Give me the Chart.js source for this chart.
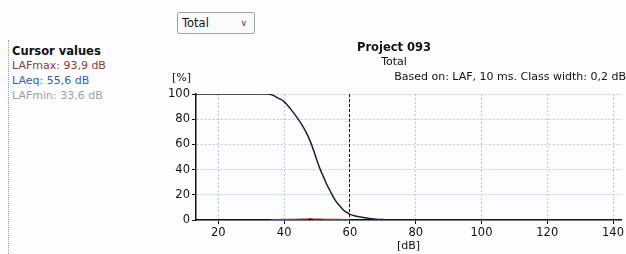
<!DOCTYPE html>
<html>
<head>
<meta charset="utf-8">
<script src="https://cdn.jsdelivr.net/npm/chart.js@4/dist/chart.umd.min.js"></script>
<style>
  body { margin: 0; width: 626px; height: 254px; background: #fdfdfd; font-family: "DejaVu Sans", Verdana, sans-serif; overflow: hidden; position: relative; }
  #painel { position: absolute; left: 8px; top: 40px; height: 214px; border-left: 1px dotted #8a9ab8; padding-left: 3px; }
  #painel h4 { margin: 4px 0 0 0; font-size: 11.5px; line-height: 14px; font-weight: bold; color: #111; }
  #painel div { font-size: 11px; line-height: 15px; }
  #dropdown { position: absolute; left: 177px; top: 12px; width: 78px; height: 22px; border: 1px solid #9aa3b0; border-radius: 2px; background: #fafafa; font-size: 11.5px; line-height: 21px; box-sizing: border-box; padding-left: 4px; color: #111; }
  #dropdown span { position: absolute; right: 7px; top: 0; font-size: 9px; color: #444; }
  #grafico-wrap { position: absolute; left: 150px; top: 40px; width: 476px; height: 214px; }
</style>
</head>
<body>
<div id="dropdown">Total<span>&#8744;</span></div>
<div id="painel">
  <h4>Cursor values</h4>
  <div style="color:#8b3a3a">LAFmax: 93,9 dB</div>
  <div style="color:#3a5fa0">LAeq: 55,6 dB</div>
  <div style="color:#9aa0a8">LAFmin: 33,6 dB</div>
</div>
<div id="grafico-wrap"><canvas id="grafico"></canvas></div>
<script>
// dados
const nivelDb = [13.2, 35, 36, 37, 38, 40, 42, 44, 46, 47, 48, 49, 50, 51, 52, 53, 54, 55, 56, 57, 58, 59, 60, 62, 64, 66, 68, 70, 72, 142.6];
const percentual = [100, 100, 99.5, 98.5, 97, 94, 88, 81, 73, 68, 62, 55, 47, 40, 34, 28, 23, 18, 14, 11, 8, 6, 4.5, 3, 2, 1.2, 0.6, 0.3, 0, 0];

const histDb = [36, 40, 44, 47, 48, 49, 52, 56, 60];
const histPct = [0.3, 0.5, 0.6, 0.8, 1.2, 0.8, 0.6, 0.5, 0.3];

const ticksX = [20, 40, 60, 80, 100, 120, 140];
const ticksY = [0, 20, 40, 60, 80, 100];
const cursorDb = 59.8;

const fonte = "DejaVu Sans, Verdana, sans-serif";

/* ======================================================
   TEXTOS E CURSOR
   ====================================================== */
const pluginTextos = {
    id: "textos",
    afterDraw(chart) {
        const ctx = chart.ctx;
        const area = chart.chartArea;
        const x = chart.scales.x;
        ctx.save();

        // cursor tracejado
        const cx = x.getPixelForValue(cursorDb);
        ctx.strokeStyle = "#111";
        ctx.lineWidth = 1;
        ctx.setLineDash([3, 2]);
        ctx.beginPath();
        ctx.moveTo(Math.round(cx) + 0.5, area.top);
        ctx.lineTo(Math.round(cx) + 0.5, area.bottom);
        ctx.stroke();
        ctx.setLineDash([]);

        ctx.fillStyle = "#111";
        ctx.textBaseline = "middle";
        ctx.textAlign = "center";
        ctx.font = "bold 11.5px " + fonte;
        ctx.fillText("Project 093", 244, 8);
        ctx.font = "11px " + fonte;
        ctx.fillText("Total", 244, 22);
        ctx.textAlign = "right";
        ctx.fillText("Based on: LAF, 10 ms. Class width: 0,2 dB", 476, 37);
        ctx.textAlign = "left";
        ctx.fillText("[%]", 22, 38);
        ctx.fillText("[dB]", 247, 206);
        ctx.restore();
    }
};

const ctx = document.getElementById("grafico").getContext("2d");
new Chart(ctx, {
    type: "line",
    data: {
        datasets: [
            {
                label: "Acumulado",
                data: nivelDb.map((d, i) => ({ x: d, y: percentual[i] })),
                borderColor: "#1a1f3a",
                borderWidth: 1.5,
                pointRadius: 0,
                cubicInterpolationMode: "monotone",
                order: 1
            },
            {
                label: "Distribuicao",
                data: histDb.map((d, i) => ({ x: d, y: histPct[i] })),
                borderColor: "#a0302a",
                borderWidth: 1.2,
                pointRadius: 0,
                cubicInterpolationMode: "monotone",
                order: 2
            }
        ]
    },
    options: {
        responsive: true,
        maintainAspectRatio: false,
        animation: false,
        layout: { padding: { top: 54, right: 0, left: 0, bottom: 0 } },
        plugins: {
            legend: { display: false },
            tooltip: { enabled: false }
        },
        scales: {
            x: {
                type: "linear",
                min: 13.2,
                max: 142.6,
                afterBuildTicks: s => { s.ticks = ticksX.map(v => ({ value: v })); },
                afterFit: s => { s.height = 34; },
                grid: {
                    color: "#b8c6e4",
                    lineWidth: 1,
                    tickColor: "#111",
                    tickLength: 4
                },
                border: { color: "#111", width: 1.5, dash: [2, 2] },
                ticks: { color: "#111", font: { family: fonte, size: 11.5 }, padding: 2, maxRotation: 0 }
            },
            y: {
                min: 0,
                max: 100,
                afterBuildTicks: s => { s.ticks = ticksY.map(v => ({ value: v })); },
                afterFit: s => { s.width = 46; },
                grid: {
                    color: "#b8c6e4",
                    lineWidth: 1,
                    tickColor: "#111",
                    tickLength: 4
                },
                border: { color: "#111", width: 1.5, dash: [2, 2] },
                ticks: { color: "#111", font: { family: fonte, size: 11.5 }, padding: 2 }
            }
        }
    },
    plugins: [pluginTextos]
});
</script>
</body>
</html>
